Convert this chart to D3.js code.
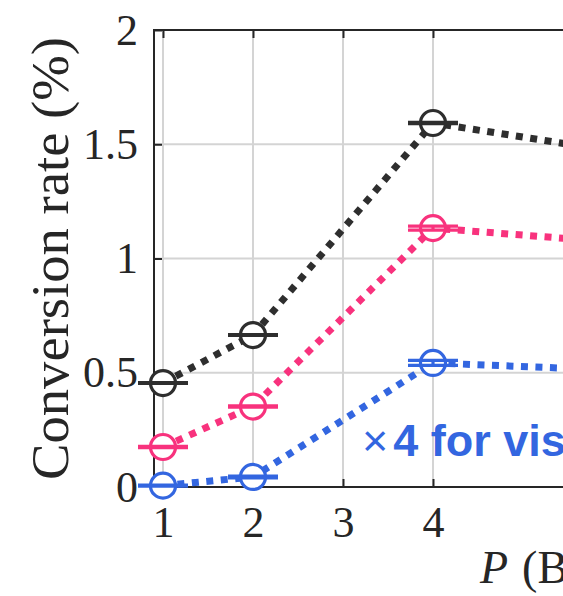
<!DOCTYPE html>
<html>
<head>
<meta charset="utf-8">
<script src="https://cdn.jsdelivr.net/npm/d3@7"></script>
<style>
  html, body { margin: 0; padding: 0; background: #fff; overflow: hidden; }
  svg { display: block; }
</style>
</head>
<body>
<svg id="chart" width="563" height="596"></svg>
<script>
// ---- data ----
const P = [1, 2, 4, 8];
const rateTotal = [0.455, 0.665, 1.593, 1.346];
const rateTotalErr = [0.002, 0.002, 0.003, 0.003];
const rateMid = [0.175, 0.352, 1.133, 1.01];
const rateMidErr = [0.003, 0.003, 0.009, 0.008];
const rateLow = [0.006, 0.044, 0.543, 0.48];   // scaled x4
const rateLowErr = [0.002, 0.004, 0.011, 0.01];

const xTickValues = [1, 2, 3, 4, 8];
const yTickValues = [0, 0.5, 1, 1.5, 2];
const yTickLabels = ["0", "0.5", "1", "1.5", "2"];

const series = [
  { values: rateTotal, errors: rateTotalErr, color: "#2e2e2e" },
  { values: rateMid,   errors: rateMidErr,   color: "#f8327d" },
  { values: rateLow,   errors: rateLowErr,   color: "#3366e0" }
];

// ---- layout ----
const svg = d3.select("#chart");
const plotLeft = 154, plotTop = 30, plotBottom = 487;
const x = d3.scaleLinear().domain([0.9, 8.5]).range([plotLeft, plotLeft + 7.6 * 90]);
const y = d3.scaleLinear().domain([0, 2]).range([plotBottom, plotTop]);
const plotRight = x.range()[1];

const axisColor = "#262626";
const serif = "'Liberation Serif', 'Times New Roman', serif";

// ---- grid ----
const grid = svg.append("g").attr("stroke", "#d4d4d4").attr("stroke-width", 2);
grid.selectAll("line.gx").data(xTickValues).join("line")
  .attr("x1", d => x(d)).attr("x2", d => x(d))
  .attr("y1", y(0)).attr("y2", y(2));
grid.selectAll("line.gy").data(yTickValues.slice(1, -1)).join("line")
  .attr("x1", plotLeft).attr("x2", plotRight)
  .attr("y1", d => y(d)).attr("y2", d => y(d));

// ---- axes ----
const yAxis = d3.axisLeft(y).tickValues(yTickValues)
  .tickFormat((d, i) => yTickLabels[i]).tickSize(-8).tickSizeOuter(0).tickPadding(16);
const xAxis = d3.axisBottom(x).tickValues(xTickValues)
  .tickFormat(d3.format("d")).tickSize(-8).tickSizeOuter(0).tickPadding(19);
const xAxisTop = d3.axisTop(x).tickValues(xTickValues)
  .tickFormat("").tickSize(-8).tickSizeOuter(0);

function styleAxis(g) {
  g.select(".domain").remove();
  g.selectAll(".tick line").attr("stroke", axisColor).attr("stroke-width", 2);
  g.selectAll(".tick text").attr("fill", axisColor)
    .style("font-family", serif).style("font-size", "44px");
}
svg.append("g").attr("transform", `translate(${plotLeft},0)`).call(yAxis).call(styleAxis);
svg.append("g").attr("transform", `translate(0,${plotBottom})`).call(xAxis).call(styleAxis);
svg.append("g").attr("transform", `translate(0,${plotTop})`).call(xAxisTop).call(styleAxis);

// box
svg.append("rect")
  .attr("x", plotLeft).attr("y", plotTop)
  .attr("width", plotRight - plotLeft).attr("height", plotBottom - plotTop)
  .attr("fill", "none").attr("stroke", axisColor).attr("stroke-width", 2);

// ---- series ----
const line = d3.line().x((d, i) => x(P[i])).y(d => y(d));
const capHalf = 25;

series.forEach(s => {
  const g = svg.append("g");
  g.append("path")
    .datum(s.values)
    .attr("d", line)
    .attr("fill", "none")
    .attr("stroke", s.color)
    .attr("stroke-width", 7)
    .attr("stroke-dasharray", "7 7.5");

  const pts = s.values.map((v, i) => ({ p: P[i], v, e: s.errors[i] }));
  g.selectAll("circle").data(pts).join("circle")
    .attr("cx", d => x(d.p)).attr("cy", d => y(d.v)).attr("r", 12.5)
    .attr("fill", "#fff").attr("stroke", s.color).attr("stroke-width", 3.2);

  const bars = g.append("g").attr("stroke", s.color).attr("stroke-width", 3.2);
  bars.selectAll("line.v").data(pts).join("line").attr("class", "v")
    .attr("x1", d => x(d.p)).attr("x2", d => x(d.p))
    .attr("y1", d => y(d.v - d.e)).attr("y2", d => y(d.v + d.e));
  bars.selectAll("line.hi").data(pts).join("line").attr("class", "hi")
    .attr("x1", d => x(d.p) - capHalf).attr("x2", d => x(d.p) + capHalf)
    .attr("y1", d => y(d.v + d.e)).attr("y2", d => y(d.v + d.e));
  bars.selectAll("line.lo").data(pts).join("line").attr("class", "lo")
    .attr("x1", d => x(d.p) - capHalf).attr("x2", d => x(d.p) + capHalf)
    .attr("y1", d => y(d.v - d.e)).attr("y2", d => y(d.v - d.e));
});

// ---- annotation ----
const note = svg.append("text")
  .attr("x", 362).attr("y", 456)
  .attr("fill", "#3366e0")
  .style("font-family", "'Liberation Sans', Arial, sans-serif")
  .style("font-size", "45px");
note.append("tspan").text("×");
note.append("tspan").attr("dx", 5).style("font-weight", "bold").text("4 for visibility");

// ---- axis labels ----
svg.append("text")
  .attr("transform", `translate(68,${(plotTop + plotBottom) / 2}) rotate(-90)`)
  .attr("text-anchor", "middle")
  .attr("fill", axisColor)
  .attr("textLength", 443)
  .attr("lengthAdjust", "spacingAndGlyphs")
  .style("font-family", serif)
  .style("font-size", "52px")
  .text("Conversion rate (%)");

const xl = svg.append("text")
  .attr("x", 480).attr("y", 583)
  .attr("fill", axisColor)
  .style("font-family", serif)
  .style("font-size", "46px");
xl.append("tspan").style("font-style", "italic").text("P");
xl.append("tspan").attr("dx", 14).text("(Batch size)");
</script>
</body>
</html>
